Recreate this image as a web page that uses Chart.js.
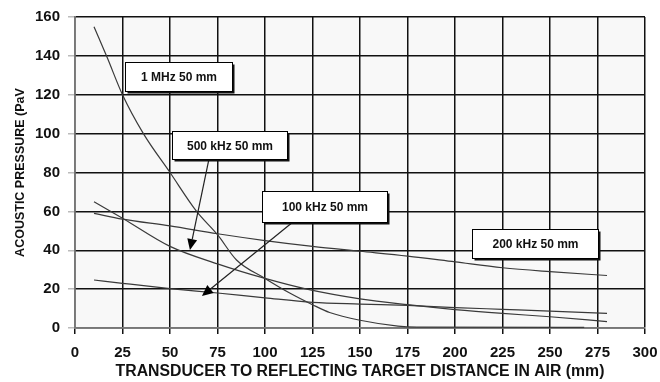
<!DOCTYPE html>
<html>
<head>
<meta charset="utf-8">
<script src="https://cdn.jsdelivr.net/npm/chart.js@4/dist/chart.umd.min.js"></script>
<style>
  html, body { margin: 0; padding: 0; background: #fff; }
  #wrap { position: relative; width: 660px; height: 382px; }
</style>
</head>
<body>
<div id="wrap"><canvas id="chart"></canvas></div>
<script>
// distances (mm) and acoustic pressure
var dist1M = [10, 17, 25, 36, 50, 64, 75, 85, 100, 113, 125, 134, 150, 170, 180, 268];
var p1M = [155, 139, 120, 100, 80, 60, 48, 35, 25.5, 18, 12, 8, 4, 1, 0.5, 0.3];

var dist500k = [10, 25, 50, 75, 100, 122, 150, 175, 200, 225, 250, 280];
var p500k = [65, 56.5, 42, 33, 25.5, 20, 15, 12, 9.5, 7.5, 5.8, 3.3];

var dist200k = [10, 25, 50, 75, 100, 125, 150, 175, 200, 225, 250, 280];
var p200k = [59, 56, 52.5, 48.5, 45, 42, 39.5, 37, 34, 31, 29, 27];

var dist100k = [10, 25, 50, 75, 100, 125, 150, 175, 200, 225, 250, 280];
var p100k = [24.7, 23, 20.3, 18, 15.5, 13.2, 12.3, 11.6, 10.5, 9.6, 8.7, 7.5];

var xTicks = [0, 25, 50, 75, 100, 125, 150, 175, 200, 225, 250, 275, 300];
var yTicks = [0, 20, 40, 60, 80, 100, 120, 140, 160];

// callout labels: box corners and arrow (in data units)
var labelText = ["1 MHz 50 mm", "500 kHz 50 mm", "100 kHz 50 mm", "200 kHz 50 mm"];
var labelBox = [
	[26.3, 136.8, 82.6, 122.0],
	[51, 101.3, 111.6, 86.9],
	[98.4, 70.5, 164.2, 54.5],
	[209, 50.9, 275.3, 35.9]
];
var labelArrow = [
	null,
	[70.5, 86.9, 60.5, 40.1],
	[114.7, 54.5, 66.8, 16.5],
	null
];

function toPoints(xs, ys) {
	return xs.map(function (x, i) { return { x: x, y: ys[i] }; });
}

function lineSet(label, xs, ys) {
	return {
		label: label,
		data: toPoints(xs, ys),
		borderColor: '#3a3a3a',
		borderWidth: 1.2,
		pointRadius: 0,
		fill: false,
		cubicInterpolationMode: 'monotone'
	};
}

var bgPlugin = {
	id: 'plotBg',
	beforeDraw: function (chart) {
		var ctx = chart.ctx, a = chart.chartArea;
		ctx.save();
		ctx.fillStyle = '#ffffff';
		ctx.fillRect(0, 0, chart.width, chart.height);
		ctx.fillStyle = '#f8f8f8';
		ctx.fillRect(a.left, a.top, a.right - a.left, a.bottom - a.top);
		ctx.restore();
	}
};

var calloutPlugin = {
	id: 'callouts',
	afterDatasetsDraw: function (chart) {
		var ctx = chart.ctx;
		var xs = chart.scales.x, ys = chart.scales.y;
		ctx.save();
		// arrows first, boxes drawn over their tails
		labelArrow.forEach(function (a) {
			if (!a) return;
			var x0 = xs.getPixelForValue(a[0]), y0 = ys.getPixelForValue(a[1]);
			var x1 = xs.getPixelForValue(a[2]), y1 = ys.getPixelForValue(a[3]);
			var ang = Math.atan2(y1 - y0, x1 - x0);
			var len = 11, half = 5;
			var bx = x1 - len * Math.cos(ang), by = y1 - len * Math.sin(ang);
			ctx.strokeStyle = '#222';
			ctx.lineWidth = 1.2;
			ctx.beginPath();
			ctx.moveTo(x0, y0);
			ctx.lineTo(bx, by);
			ctx.stroke();
			ctx.fillStyle = '#000';
			ctx.beginPath();
			ctx.moveTo(x1, y1);
			ctx.lineTo(bx + half * Math.sin(ang), by - half * Math.cos(ang));
			ctx.lineTo(bx - half * Math.sin(ang), by + half * Math.cos(ang));
			ctx.closePath();
			ctx.fill();
		});
		labelBox.forEach(function (b, i) {
			var l = Math.round(xs.getPixelForValue(b[0])) + 0.5;
			var t = Math.round(ys.getPixelForValue(b[1])) + 0.5;
			var r = Math.round(xs.getPixelForValue(b[2])) + 0.5;
			var bt = Math.round(ys.getPixelForValue(b[3])) + 0.5;
			ctx.fillStyle = '#111';
			ctx.fillRect(l + 2, t + 2, r - l, bt - t);
			ctx.fillStyle = '#fff';
			ctx.fillRect(l, t, r - l, bt - t);
			ctx.strokeStyle = '#000';
			ctx.lineWidth = 1;
			ctx.strokeRect(l, t, r - l, bt - t);
			ctx.fillStyle = '#111';
			ctx.font = 'bold 12px "Liberation Sans", Arial, sans-serif';
			ctx.textAlign = 'center';
			ctx.textBaseline = 'middle';
			ctx.fillText(labelText[i], (l + r) / 2, (t + bt) / 2 + 1);
		});
		ctx.restore();
	}
};

var tickFont = { family: '"Liberation Sans", Arial, sans-serif', size: 15, weight: 'bold' };

new Chart(document.getElementById('chart').getContext('2d'), {
	type: 'line',
	data: {
		datasets: [
			lineSet('1 MHz 50 mm', dist1M, p1M),
			lineSet('500 kHz 50 mm', dist500k, p500k),
			lineSet('200 kHz 50 mm', dist200k, p200k),
			lineSet('100 kHz 50 mm', dist100k, p100k)
		]
	},
	options: {
		responsive: true,
		maintainAspectRatio: false,
		animation: false,
		layout: { padding: { top: 17, right: 15, left: 0, bottom: 0 } },
		plugins: {
			legend: { display: false },
			tooltip: { enabled: false }
		},
		scales: {
			x: {
				type: 'linear',
				min: 0,
				max: 300,
				afterBuildTicks: function (s) { s.ticks = xTicks.map(function (v) { return { value: v }; }); },
				afterFit: function (s) { s.height = 54; s.paddingRight = 0; s.paddingLeft = 0; },
				ticks: { font: tickFont, color: '#111', padding: 10, maxRotation: 0 },
				grid: { color: '#111', lineWidth: 1.5, tickLength: 6, tickColor: '#111' },
				border: { color: '#777', width: 1.5 },
				title: {
					display: true,
					text: 'TRANSDUCER TO REFLECTING TARGET DISTANCE IN AIR (mm)',
					font: { family: '"Liberation Sans", Arial, sans-serif', size: 15.8, weight: 'bold' },
					color: '#111',
					padding: { top: 0, bottom: 1 }
				}
			},
			y: {
				min: 0,
				max: 160,
				afterBuildTicks: function (s) { s.ticks = yTicks.map(function (v) { return { value: v }; }); },
				afterFit: function (s) { s.width = 75; s.paddingTop = 0; s.paddingBottom = 0; },
				ticks: { font: tickFont, color: '#111', padding: 8 },
				grid: { color: '#111', lineWidth: 1.5, tickLength: 7, tickColor: '#bbb' },
				border: { color: '#777', width: 1.5 },
				title: {
					display: true,
					text: 'ACOUSTIC PRESSURE (PaV',
					font: { family: '"Liberation Sans", Arial, sans-serif', size: 12.5, weight: 'bold' },
					color: '#111',
					padding: { top: 13, bottom: 0 }
				}
			}
		}
	},
	plugins: [bgPlugin, calloutPlugin]
});
</script>
</body>
</html>
